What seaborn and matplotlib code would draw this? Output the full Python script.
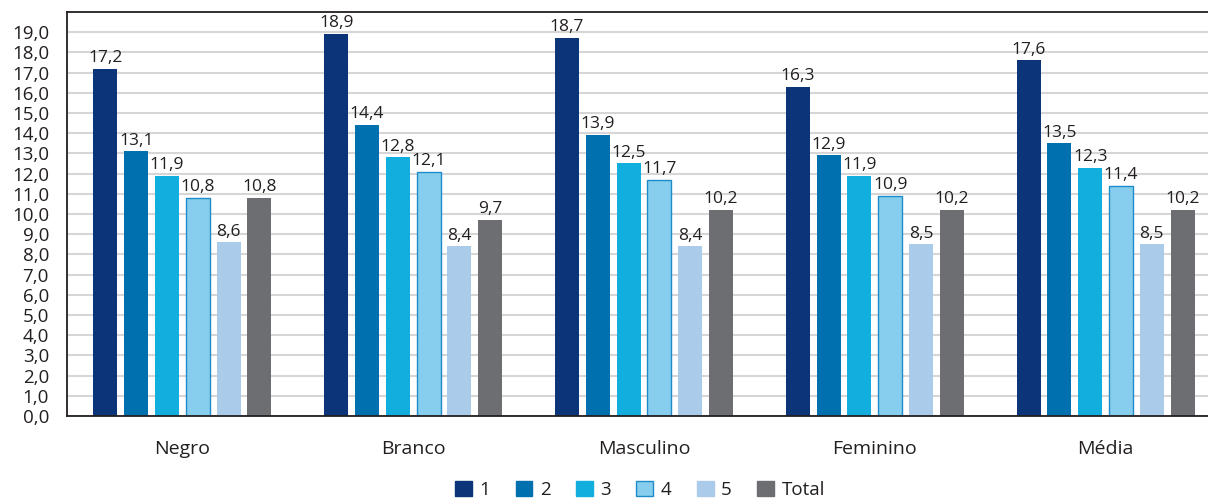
import pandas as pd
import matplotlib.pyplot as plt
import seaborn as sns
from matplotlib.ticker import FixedLocator
from matplotlib.patches import Patch

# Data
groups = ["Negro", "Branco", "Masculino", "Feminino", "Média"]
series = ["1", "2", "3", "4", "5", "Total"]
v1 = [17.2, 18.9, 18.7, 16.3, 17.6]
v2 = [13.1, 14.4, 13.9, 12.9, 13.5]
v3 = [11.9, 12.8, 12.5, 11.9, 12.3]
v4 = [10.8, 12.1, 11.7, 10.9, 11.4]
v5 = [8.6, 8.4, 8.4, 8.5, 8.5]
total = [10.8, 9.7, 10.2, 10.2, 10.2]

colors = ["#0b3479", "#0070ae", "#12aede", "#86cdee", "#abcbea", "#6d6e71"]

rows = []
for s, vals in zip(series, [v1, v2, v3, v4, v5, total]):
    for g, v in zip(groups, vals):
        rows.append({"grupo": g, "serie": s, "valor": v})
df = pd.DataFrame(rows)

sns.set_style("white")
plt.rcParams["font.family"] = ["Open Sans", "DejaVu Sans"]
text_color = "#231f20"

fig = plt.figure(figsize=(12.08, 4.99), dpi=100)
ax = fig.add_axes([67 / 1208, 1 - 416 / 499, (1221 - 67) / 1208, (416 - 12) / 499])

sns.barplot(data=df, x="grupo", y="valor", hue="serie", palette=colors, saturation=1,
            width=0.8, gap=0.22, ax=ax, legend=False, linewidth=0)

# outline on series 4
for bar in ax.containers[3]:
    bar.set_edgecolor("#1f8bc9")
    bar.set_linewidth(1.0)

for cont in ax.containers:
    ax.bar_label(cont, labels=[f"{b.get_height():.1f}".replace(".", ",") for b in cont],
                 padding=2, fontsize=12.5, color=text_color)

ax.set_ylim(0, 20)
ax.set_xlim(-0.5, 4.5)
ax.set_yticks(range(0, 20))
ax.set_yticklabels([f"{i},0" for i in range(0, 20)], fontsize=13.5, color=text_color)
ax.tick_params(axis="y", length=11, width=1.2, color="#333333", pad=2)
ax.tick_params(axis="x", which="major", length=0, pad=17, labelsize=14, labelcolor=text_color)
ax.xaxis.set_minor_locator(FixedLocator([-0.5, 0.5, 1.5, 2.5, 3.5, 4.5]))
ax.tick_params(axis="x", which="minor", length=15, width=1.2, color="#333333", direction="out")
ax.set_xlabel("")
ax.set_ylabel("")

ax.yaxis.grid(True, color="#d6d6d6", linewidth=1.5)
ax.set_axisbelow(True)
for side in ["left", "top", "bottom"]:
    ax.spines[side].set_visible(True)
    ax.spines[side].set_color("#231f20")
    ax.spines[side].set_linewidth(1.3)
ax.spines["right"].set_visible(False)

handles = [Patch(facecolor=c, edgecolor=("#1f8bc9" if s == "4" else c)) for s, c in zip(series, colors)]
fig.legend(handles, series, loc="center", bbox_to_anchor=(640 / 1208, 1 - 490 / 499), ncol=6,
           frameon=False, fontsize=13.5, handlelength=0.9, handleheight=0.9,
           columnspacing=1.35, handletextpad=0.4, labelcolor=text_color, borderpad=0)

fig.savefig("out.png", dpi=100)
